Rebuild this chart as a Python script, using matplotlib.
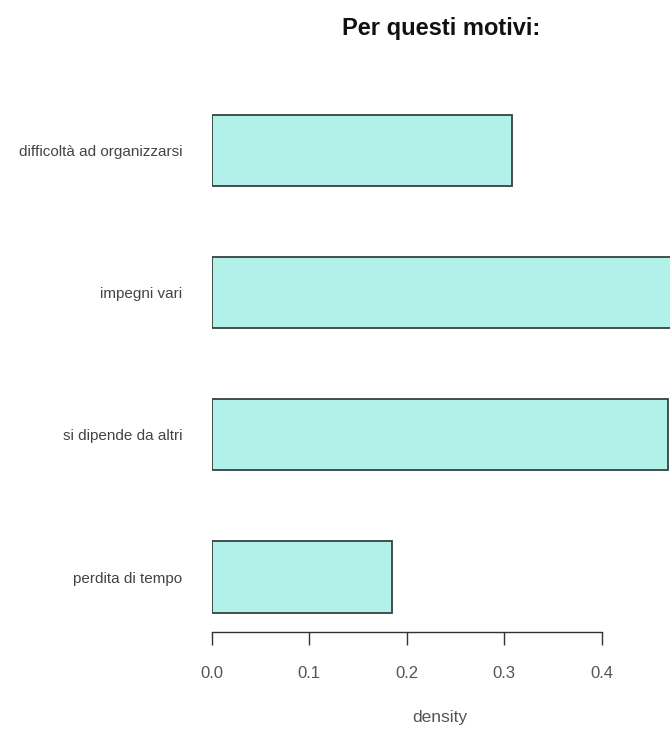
import matplotlib
matplotlib.use("Agg")
import matplotlib.pyplot as plt

# Reasons (top to bottom) and their density values
categories = ["difficoltà ad organizzarsi", "impegni vari", "si dipende da altri", "perdita di tempo"]
density = [0.3077, 0.477, 0.468, 0.185]
xticks = [0.0, 0.1, 0.2, 0.3, 0.4]

plt.rcParams["font.family"] = ["Liberation Sans", "DejaVu Sans"]

W, H = 670, 729
fig = plt.figure(figsize=(W / 100, H / 100), dpi=100)

# axes placed in pixel terms: x from 0 (px 211.7) to the right figure edge
x0_px, x_right_px = 211.7, 670.0
px_per_unit_x = 975.0
xmax = (x_right_px - x0_px) / px_per_unit_x

top_px, bot_px = 105.0, 622.0
ax = fig.add_axes([x0_px / W, 1 - bot_px / H, (x_right_px - x0_px) / W, (bot_px - top_px) / H])

# bar centres measured from the bottom bar upward
px_per_unit_y = 142.2
y0_px = 577.0
ylo = -(bot_px - y0_px) / px_per_unit_y
yhi = (y0_px - top_px) / px_per_unit_y

ypos = list(range(len(categories)))[::-1]
ax.barh(ypos, density, height=0.5, color="#B2F1E9", edgecolor="#34423f",
        linewidth=1.3, zorder=2)

ax.set_xlim(0, xmax)
ax.set_ylim(ylo, yhi)

for s in ("top", "right", "left"):
    ax.spines[s].set_visible(False)
ax.spines["bottom"].set_position(("outward", 7))
ax.spines["bottom"].set_bounds(0, 0.4)
ax.spines["bottom"].set_color("#333333")
ax.spines["bottom"].set_linewidth(1.0)

ax.set_xticks(xticks)
ax.set_xticklabels([f"{t:.1f}" for t in xticks])
ax.tick_params(axis="x", direction="out", length=9, width=1.0, color="#333333",
               labelsize=12, labelcolor="#555555", pad=16)

ax.set_yticks(ypos)
ax.set_yticklabels(categories)
ax.tick_params(axis="y", length=0, labelsize=11, labelcolor="#444444", pad=21)

ax.set_xlabel("density", fontsize=12.5, color="#555555")
ax.xaxis.set_label_coords((440 - x0_px) / (x_right_px - x0_px), -(710 - bot_px) / (bot_px - top_px))

fig.text(441 / W, 1 - 29 / H, "Per questi motivi:", ha="center", va="center",
         fontsize=17, fontweight="bold", color="#111111")

fig.savefig("out.png", dpi=100)
